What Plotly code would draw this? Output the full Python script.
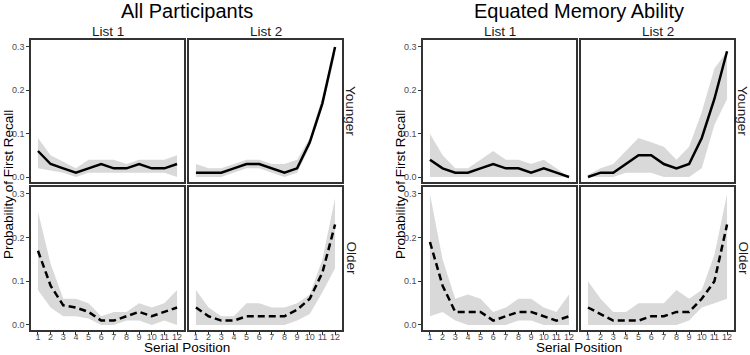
import plotly.graph_objects as go

W, H = 750, 355

serial_pos = list(range(1, 13))
lists = ["List 1", "List 2"]
ages = ["Younger", "Older"]
groups = ["All Participants", "Equated Memory Ability"]
y_ticks = [0.0, 0.1, 0.2, 0.3]

# ---------------- All Participants ----------------
all_young_l1_mean = [0.06, 0.03, 0.02, 0.01, 0.02, 0.03, 0.02, 0.02, 0.03, 0.02, 0.02, 0.03]
all_young_l1_hi   = [0.09, 0.05, 0.035, 0.02, 0.04, 0.04, 0.04, 0.03, 0.04, 0.04, 0.04, 0.05]
all_young_l1_lo   = [0.02, 0.015, 0.01, 0.0, 0.01, 0.01, 0.01, 0.01, 0.01, 0.01, 0.01, 0.0]

all_young_l2_mean = [0.01, 0.01, 0.01, 0.02, 0.03, 0.03, 0.02, 0.01, 0.02, 0.08, 0.17, 0.30]
all_young_l2_hi   = [0.03, 0.02, 0.02, 0.03, 0.04, 0.04, 0.03, 0.03, 0.04, 0.09, 0.185, 0.30]
all_young_l2_lo   = [0.0, 0.0, 0.0, 0.01, 0.02, 0.02, 0.01, 0.0, 0.01, 0.07, 0.16, 0.28]

all_old_l1_mean = [0.17, 0.09, 0.045, 0.04, 0.03, 0.01, 0.01, 0.02, 0.03, 0.02, 0.03, 0.04]
all_old_l1_hi   = [0.26, 0.14, 0.06, 0.06, 0.05, 0.02, 0.03, 0.03, 0.05, 0.04, 0.05, 0.08]
all_old_l1_lo   = [0.08, 0.04, 0.02, 0.02, 0.015, 0.0, 0.0, 0.01, 0.01, 0.0, 0.01, 0.0]

all_old_l2_mean = [0.04, 0.02, 0.01, 0.01, 0.02, 0.02, 0.02, 0.02, 0.035, 0.06, 0.12, 0.23]
all_old_l2_hi   = [0.08, 0.04, 0.02, 0.02, 0.05, 0.05, 0.04, 0.04, 0.05, 0.07, 0.15, 0.29]
all_old_l2_lo   = [0.0, 0.0, 0.0, 0.0, 0.0, 0.0, 0.0, 0.0, 0.01, 0.025, 0.075, 0.13]

# ---------------- Equated Memory Ability ----------------
eq_young_l1_mean = [0.04, 0.02, 0.01, 0.01, 0.02, 0.03, 0.02, 0.02, 0.01, 0.02, 0.01, 0.0]
eq_young_l1_hi   = [0.10, 0.05, 0.02, 0.02, 0.04, 0.06, 0.04, 0.04, 0.03, 0.04, 0.02, 0.0]
eq_young_l1_lo   = [0.0, 0.0, 0.0, 0.0, 0.0, 0.0, 0.0, 0.0, 0.0, 0.0, 0.0, 0.0]

eq_young_l2_mean = [0.0, 0.01, 0.01, 0.03, 0.05, 0.05, 0.03, 0.02, 0.03, 0.09, 0.18, 0.29]
eq_young_l2_hi   = [0.005, 0.02, 0.03, 0.06, 0.09, 0.08, 0.07, 0.04, 0.07, 0.15, 0.25, 0.29]
eq_young_l2_lo   = [0.0, 0.0, 0.0, 0.01, 0.01, 0.01, 0.0, 0.0, 0.0, 0.02, 0.12, 0.18]

eq_old_l1_mean = [0.19, 0.09, 0.03, 0.03, 0.03, 0.01, 0.02, 0.03, 0.03, 0.02, 0.01, 0.02]
eq_old_l1_hi   = [0.30, 0.15, 0.06, 0.07, 0.06, 0.03, 0.04, 0.06, 0.06, 0.04, 0.03, 0.07]
eq_old_l1_lo   = [0.02, 0.03, 0.01, 0.0, 0.0, 0.0, 0.0, 0.01, 0.01, 0.0, 0.0, 0.0]

eq_old_l2_mean = [0.04, 0.025, 0.01, 0.01, 0.01, 0.02, 0.02, 0.03, 0.03, 0.06, 0.10, 0.23]
eq_old_l2_hi   = [0.10, 0.06, 0.03, 0.03, 0.05, 0.05, 0.05, 0.08, 0.06, 0.08, 0.16, 0.30]
eq_old_l2_lo   = [0.0, 0.0, 0.0, 0.0, 0.0, 0.0, 0.0, 0.0, 0.01, 0.04, 0.05, 0.06]

panels = {
    (0, 0, 0): (all_young_l1_mean, all_young_l1_lo, all_young_l1_hi),
    (0, 0, 1): (all_young_l2_mean, all_young_l2_lo, all_young_l2_hi),
    (0, 1, 0): (all_old_l1_mean, all_old_l1_lo, all_old_l1_hi),
    (0, 1, 1): (all_old_l2_mean, all_old_l2_lo, all_old_l2_hi),
    (1, 0, 0): (eq_young_l1_mean, eq_young_l1_lo, eq_young_l1_hi),
    (1, 0, 1): (eq_young_l2_mean, eq_young_l2_lo, eq_young_l2_hi),
    (1, 1, 0): (eq_old_l1_mean, eq_old_l1_lo, eq_old_l1_hi),
    (1, 1, 1): (eq_old_l2_mean, eq_old_l2_lo, eq_old_l2_hi),
}

# pixel layout
col_px = {0: [(31, 184), (189, 342)], 1: [(423, 576), (581, 734)]}
row_px = [(40, 182), (187, 330)]

FONT = "Liberation Sans, Arial, sans-serif"
BORDER = "#333333"
FILL = "#d9d9d9"
TICKCOL = "#4d4d4d"


def fx(x):
    return x / W


def fy(y):
    return 1 - y / H


fig = go.Figure()
layout = {}
annotations = []

n = 0
for g in range(2):
    for r in range(2):
        for c in range(2):
            n += 1
            mean, lo, hi = panels[(g, r, c)]
            xa = "x" if n == 1 else f"x{n}"
            ya = "y" if n == 1 else f"y{n}"
            fig.add_trace(go.Scatter(
                x=serial_pos + serial_pos[::-1],
                y=hi + lo[::-1],
                fill="toself", fillcolor=FILL, line=dict(width=0),
                mode="lines", hoverinfo="skip", showlegend=False,
                xaxis=xa, yaxis=ya))
            fig.add_trace(go.Scatter(
                x=serial_pos, y=mean, mode="lines",
                line=dict(color="black", width=2.5,
                          dash="solid" if r == 0 else "7px,4px"),
                showlegend=False, xaxis=xa, yaxis=ya))
            x0, x1 = col_px[g][c]
            y0, y1 = row_px[r]
            xkey = "xaxis" if n == 1 else f"xaxis{n}"
            ykey = "yaxis" if n == 1 else f"yaxis{n}"
            layout[xkey] = dict(
                domain=[fx(x0), fx(x1)], anchor=ya, range=[0.45, 12.55],
                tickvals=serial_pos, ticktext=[str(v) for v in serial_pos],
                showticklabels=(r == 1), ticks="outside" if r == 1 else "",
                ticklen=3, tickcolor=BORDER, tickwidth=1, ticklabelstandoff=-6,
                tickfont=dict(size=9, color=TICKCOL, family=FONT),
                showline=True, mirror=True, linecolor=BORDER, linewidth=1.5,
                showgrid=False, zeroline=False, fixedrange=True)
            layout[ykey] = dict(
                domain=[fy(y1), fy(y0)], anchor=xa, range=[-0.0115, 0.316],
                tickvals=y_ticks, ticktext=[f"{v:.1f}" for v in y_ticks],
                showticklabels=(c == 0), ticks="outside" if c == 0 else "",
                ticklen=3, tickcolor=BORDER, tickwidth=1,
                tickfont=dict(size=9, color=TICKCOL, family=FONT),
                showline=True, mirror=True, linecolor=BORDER, linewidth=1.5,
                showgrid=False, zeroline=False, fixedrange=True)

# text annotations
for g in range(2):
    left = col_px[g][0][0]
    right = col_px[g][1][1]
    cx = (left + right) / 2
    annotations.append(dict(text=groups[g], x=fx(cx), y=fy(11), xref="paper", yref="paper",
                            showarrow=False, font=dict(size=20, color="black", family=FONT),
                            xanchor="center", yanchor="middle"))
    for c in range(2):
        a, b = col_px[g][c]
        annotations.append(dict(text=lists[c], x=fx((a + b) / 2), y=fy(32), xref="paper", yref="paper",
                                showarrow=False, font=dict(size=13.5, color="#1a1a1a", family=FONT),
                                xanchor="center", yanchor="middle"))
    for r in range(2):
        a, b = row_px[r]
        annotations.append(dict(text=ages[r], x=fx(right + 9), y=fy((a + b) / 2), xref="paper", yref="paper",
                                showarrow=False, textangle=90,
                                font=dict(size=13.5, color="#1a1a1a", family=FONT),
                                xanchor="center", yanchor="middle"))
    annotations.append(dict(text="Probability of First Recall", x=fx(left - 23), y=fy((40 + 330) / 2),
                            xref="paper", yref="paper", showarrow=False, textangle=-90,
                            font=dict(size=13.5, color="black", family=FONT),
                            xanchor="center", yanchor="middle"))
    annotations.append(dict(text="Serial Position", x=fx(cx), y=fy(347.5), xref="paper", yref="paper",
                            showarrow=False, borderpad=0,
                            font=dict(size=13.5, color="black", family=FONT),
                            xanchor="center", yanchor="middle"))

fig.update_layout(
    width=W, height=H, margin=dict(l=0, r=0, t=0, b=0),
    paper_bgcolor="white", plot_bgcolor="white",
    showlegend=False, annotations=annotations, **layout)

fig.write_html("out.html", config={"displayModeBar": False})

# remove the default browser body margin so the figure fills the window exactly
with open("out.html", "r", encoding="utf-8") as f:
    html = f.read()
html = html.replace("<body>", '<body style="margin:0;padding:0;overflow:hidden">', 1)
with open("out.html", "w", encoding="utf-8") as f:
    f.write(html)
